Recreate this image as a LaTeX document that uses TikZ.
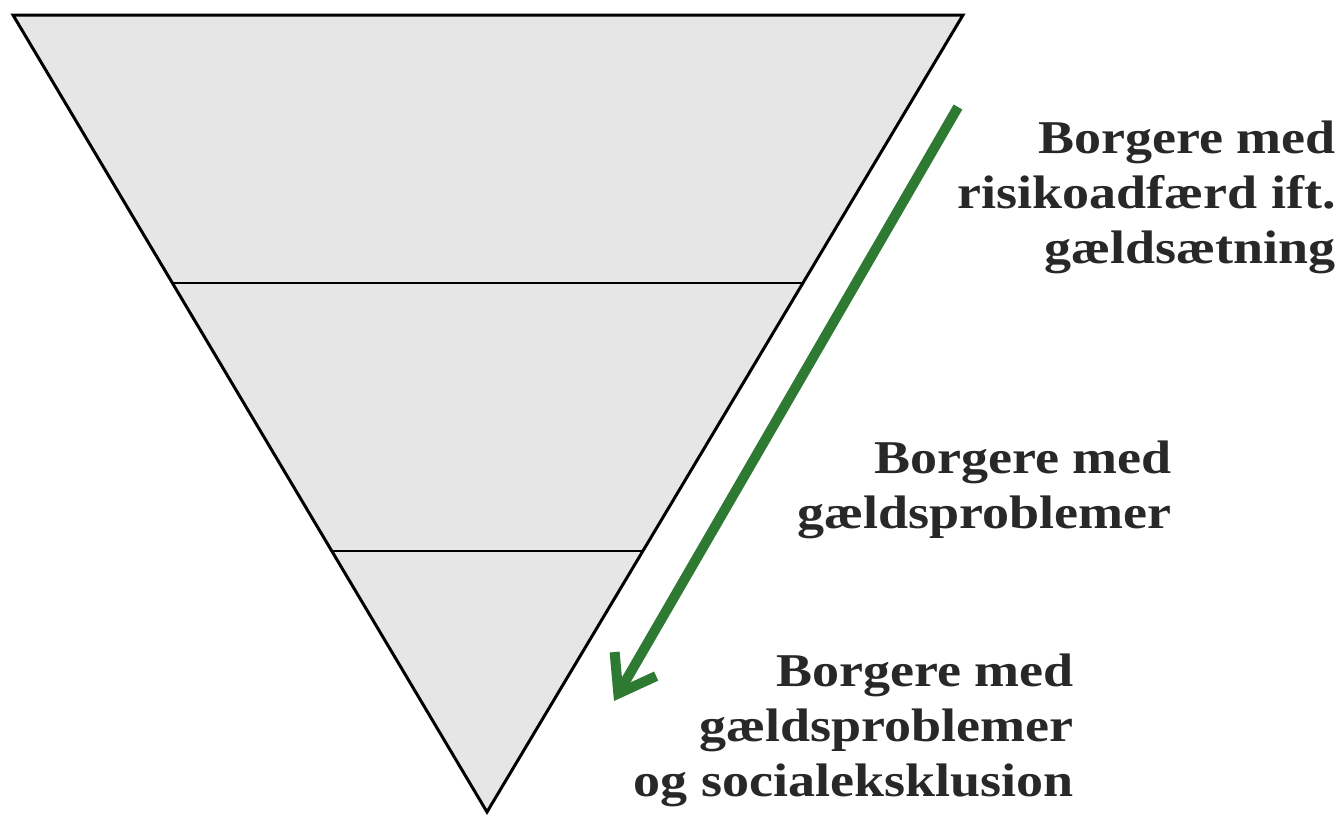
\documentclass[tikz,border=0pt]{standalone}
\usepackage{fontspec}
\setmainfont{Liberation Serif}[FakeStretch=1.15]
\usetikzlibrary{arrows.meta}
\definecolor{layerfill}{RGB}{230,230,230}
\definecolor{arrowgreen}{RGB}{47,122,50}
\definecolor{txt}{RGB}{40,40,40}
\tikzset{
  outline/.style={draw=black, line width=3pt, line join=miter},
  divider/.style={draw=black, line width=2.6pt},
  flow/.style={draw=arrowgreen, line width=10pt, -{Straight Barb[length=34pt, width=48pt, line width=10pt]}},
  lbl/.style={font=\bfseries\fontsize{47}{55}\selectfont, text=txt, align=right, inner sep=0pt, anchor=base east}
}
\begin{document}
\begin{tikzpicture}[x=1pt, y=-1pt]
  \useasboundingbox (0,0) rectangle (1341,819);
  \coordinate (tl) at (13,15);
  \coordinate (tr) at (963,15);
  \coordinate (ap) at (487,812);
  \coordinate (d1l) at (172,283);
  \coordinate (d1r) at (803,283);
  \coordinate (d2l) at (332,551);
  \coordinate (d2r) at (643,551);
  \fill[layerfill] (tl) -- (tr) -- (ap) -- cycle;
  \draw[divider] (d1l) -- (d1r);
  \draw[divider] (d2l) -- (d2r);
  \draw[outline] (tl) -- (tr) -- (ap) -- cycle;
  \coordinate (as) at (958,107);
  \coordinate (ae) at (614,701);
  \draw[flow] (as) -- (ae);
  \node[lbl] (t1) at (1336,263) {Borgere med\\risikoadfærd ift.\\gældsætning};
  \node[lbl] (t2) at (1172,528) {Borgere med\\gældsproblemer};
  \node[lbl] (t3) at (1074,796) {Borgere med\\gældsproblemer\\og socialeksklusion};
\end{tikzpicture}
\end{document}
